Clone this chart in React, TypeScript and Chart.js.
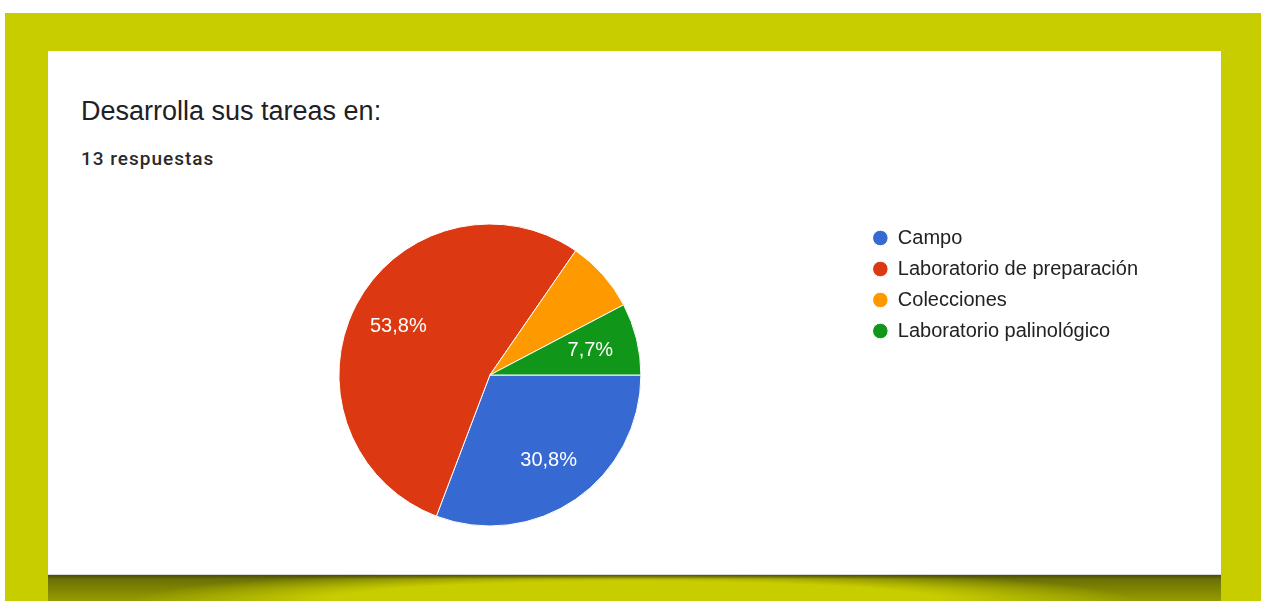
import React, { useEffect, useRef } from "react";
import { Chart, registerables } from "chart.js";

Chart.register(...registerables);

// ---- data ----
const categories = ["Campo", "Laboratorio de preparación", "Colecciones", "Laboratorio palinológico"];
const responses = [4, 7, 1, 1];
const sliceColors = ["#3769d2", "#dc3912", "#ff9900", "#109618"];
const labelVisible = [true, true, false, true];
const chartTitle = "Desarrolla sus tareas en:";
const chartSubtitle = "13 respuestas";

const FONT = "'Liberation Sans', Arial, sans-serif";

const sliceLabelPlugin = {
  id: "sliceLabels",
  afterDatasetsDraw(chart: any) {
    const meta = chart.getDatasetMeta(0);
    const data = chart.data.datasets[0].data as number[];
    const total = data.reduce((a, b) => a + b, 0);
    const ctx = chart.ctx;
    ctx.save();
    ctx.font = `20px ${FONT}`;
    ctx.fillStyle = "#ffffff";
    ctx.textAlign = "center";
    ctx.textBaseline = "middle";
    meta.data.forEach((arc: any, i: number) => {
      if (!labelVisible[i]) return;
      const { x, y, startAngle, endAngle, outerRadius } = arc.getProps(
        ["x", "y", "startAngle", "endAngle", "outerRadius"],
        true
      );
      const mid = (startAngle + endAngle) / 2;
      const r = outerRadius * 0.685;
      const txt = ((data[i] / total) * 100).toFixed(1).replace(".", ",") + "%";
      ctx.fillText(txt, x + Math.cos(mid) * r, y + Math.sin(mid) * r);
    });
    ctx.restore();
  },
};

export default function App() {
  const canvasRef = useRef<HTMLCanvasElement | null>(null);

  useEffect(() => {
    if (!canvasRef.current) return;
    const chart = new Chart(canvasRef.current, {
      type: "pie",
      data: {
        labels: categories,
        datasets: [
          {
            data: responses,
            backgroundColor: sliceColors,
            borderColor: "#ffffff",
            borderWidth: 1,
            radius: 151,
          } as any,
        ],
      },
      options: {
        animation: false,
        responsive: false,
        maintainAspectRatio: false,
        rotation: 90,
        layout: { padding: { left: 70, right: 73, top: 27, bottom: 32 } },
        plugins: {
          tooltip: { enabled: false },
          legend: {
            position: "right",
            align: "start",
            labels: {
              usePointStyle: true,
              pointStyle: "circle",
              boxWidth: 15,
              boxHeight: 11,
              padding: 11,
              color: "#222222",
              font: { family: FONT, size: 20 },
            },
          },
        },
      },
      plugins: [sliceLabelPlugin],
    });
    return () => chart.destroy();
  }, []);

  return (
    <div
      style={{
        position: "fixed",
        left: 0,
        top: 0,
        width: 1261,
        height: 601,
        background: "#ffffff",
        overflow: "hidden",
        fontFamily: FONT,
      }}
    >
      <div
        style={{
          position: "absolute",
          left: 5,
          top: 13,
          width: 1256,
          height: 588,
          background: "#c8cd00",
        }}
      />
      <div
        style={{
          position: "absolute",
          left: 48,
          top: 575,
          width: 1173,
          height: 26,
          background:
            "linear-gradient(to bottom, rgba(70,72,0,0.85) 0px, rgba(70,72,0,0) 4px)," +
            "radial-gradient(ellipse 45% 130% at 50% 100%, #c8cd00 0%, #c8cd00 58%, rgba(200,205,0,0) 95%)," +
            "linear-gradient(to bottom, #62680a 0%, #7d8300 50%, #969c00 100%)",
        }}
      />
      <div
        style={{
          position: "absolute",
          left: 48,
          top: 51,
          width: 1173,
          height: 524,
          background: "#ffffff",
          borderBottom: "1px solid #d8d8d8",
          boxSizing: "border-box",
        }}
      />
      <div
        style={{
          position: "absolute",
          left: 81,
          top: 98,
          fontSize: 27,
          lineHeight: "27px",
          color: "#202124",
          whiteSpace: "nowrap",
        }}
      >
        {chartTitle}
      </div>
      <div
        style={{
          position: "absolute",
          left: 81,
          top: 149,
          fontFamily: "Roboto, sans-serif",
          fontWeight: 500,
          fontSize: 19,
          lineHeight: "19px",
          letterSpacing: "1px",
          color: "#2a2a2a",
          whiteSpace: "nowrap",
        }}
      >
        {chartSubtitle}
      </div>
      <canvas
        ref={canvasRef}
        width={1173}
        height={375}
        style={{ position: "absolute", left: 48, top: 190, width: 1173, height: 375 }}
      />
    </div>
  );
}
